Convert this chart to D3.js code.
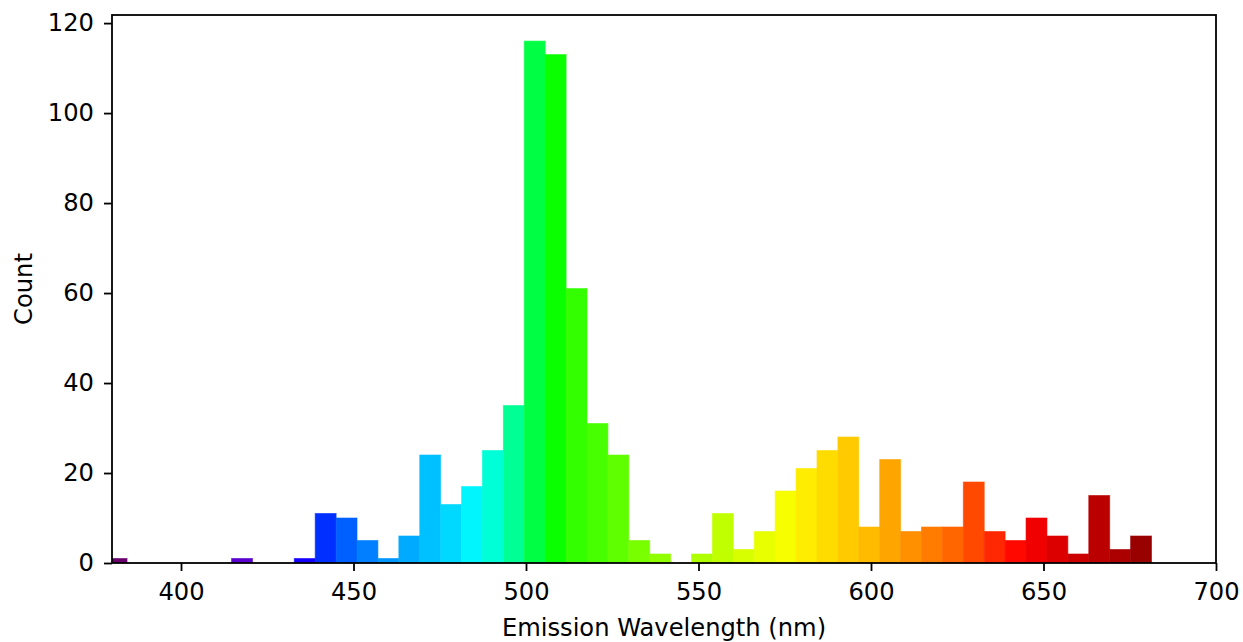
<!DOCTYPE html>
<html>
<head>
<meta charset="utf-8">
<script src="https://cdn.jsdelivr.net/npm/d3@7"></script>
<style>
  html, body { margin: 0; padding: 0; background: #fff; }
  svg { display: block; font-family: "DejaVu Sans", sans-serif; }
</style>
</head>
<body>
<svg id="chart" width="1243" height="642"></svg>
<script>
// ---- data ----
const binEdges = [378.30, 384.36, 390.42, 396.48, 402.54, 408.60, 414.66, 420.72, 426.78, 432.84,
  438.90, 444.96, 451.02, 457.08, 463.14, 469.20, 475.26, 481.32, 487.38, 493.44,
  499.50, 505.56, 511.62, 517.68, 523.74, 529.80, 535.86, 541.92, 547.98, 554.04,
  560.10, 566.16, 572.22, 578.28, 584.34, 590.40, 596.46, 602.52, 608.58, 614.64,
  620.70, 626.76, 632.82, 638.88, 644.94, 651.00, 657.06, 663.12, 669.18, 675.24, 681.30];
const counts = [1, 0, 0, 0, 0, 0, 1, 0, 0, 1,
  11, 10, 5, 1, 6, 24, 13, 17, 25, 35,
  116, 113, 61, 31, 24, 5, 2, 0, 2, 11,
  3, 7, 16, 21, 25, 28, 8, 23, 7, 8,
  8, 18, 7, 5, 10, 6, 2, 15, 3, 6];
const xTicks = [400, 450, 500, 550, 600, 650, 700];
const yTicks = [0, 20, 40, 60, 80, 100, 120];
const colorStops = [381.3, 417.7, 435.8, 442, 448, 454, 460, 466, 472, 478, 484, 490, 496, 502.5,
  508.6, 514.7, 520.7, 526.8, 532.8, 538.9, 551, 557, 563, 569, 575, 581, 587, 593, 599.5,
  605.5, 611.6, 617.7, 623.7, 629.8, 635.9, 641.9, 648, 654, 660, 666, 672.2, 678.3];
const colorValues = ["#6a006c", "#5a00d0", "#1400ff", "#0030ff", "#0060ff", "#0080ff", "#0098ff",
  "#00aaff", "#00c0ff", "#00d8ff", "#00f4ff", "#00ffdc", "#00ff9a", "#00ff44",
  "#0aff00", "#34ff00", "#48ff00", "#60ff00", "#78ff00", "#90ff00", "#b0ff00", "#c0ff00",
  "#d8ff00", "#e8ff00", "#f6ff00", "#ffee00", "#ffdd00", "#ffcc00", "#ffbb00",
  "#ffa500", "#ff9000", "#ff7c00", "#ff6600", "#ff4800", "#ff2800", "#ff0800",
  "#f00000", "#dd0000", "#cc0000", "#bb0000", "#aa0000", "#990000"];

// ---- layout ----
const L = 112, R = 1216, T = 15, B = 563;
const fontSize = 24.2, lw = 1.8, tickLen = 8;

const svg = d3.select("#chart");
const x = d3.scaleLinear().domain([380, 700]).range([L, R]);
const y = d3.scaleLinear().domain([0, d3.max(counts) * 1.05]).range([B, T]);
const color = d3.scaleLinear().domain(colorStops).range(colorValues).clamp(true);

const bins = counts.map((c, i) => ({ x0: binEdges[i], x1: binEdges[i + 1], c }));

svg.append("clipPath").attr("id", "clip")
  .append("rect").attr("x", L).attr("y", T).attr("width", R - L).attr("height", B - T);

svg.append("g").attr("clip-path", "url(#clip)")
  .selectAll("rect").data(bins).join("rect")
  .attr("x", d => x(d.x0))
  .attr("width", d => x(d.x1) - x(d.x0))
  .attr("y", d => y(d.c))
  .attr("height", d => y(0) - y(d.c))
  .attr("fill", d => color((d.x0 + d.x1) / 2))
  .attr("stroke", d => color((d.x0 + d.x1) / 2))
  .attr("stroke-opacity", 0.6)
  .attr("stroke-width", 1);

// axes
const xAxis = d3.axisBottom(x).tickValues(xTicks).tickSize(tickLen).tickPadding(9).tickFormat(d3.format("d"));
const yAxis = d3.axisLeft(y).tickValues(yTicks).tickSize(tickLen).tickPadding(10).tickFormat(d3.format("d"));

const gx = svg.append("g").attr("transform", `translate(0,${B})`).call(xAxis);
const gy = svg.append("g").attr("transform", `translate(${L},0)`).call(yAxis);
[gx, gy].forEach(g => {
  g.select(".domain").remove();
  g.selectAll(".tick line").attr("stroke", "#000").attr("stroke-width", lw);
  g.selectAll(".tick text").attr("fill", "#000").attr("font-size", fontSize)
    .attr("font-family", "DejaVu Sans, sans-serif");
});
gx.selectAll(".tick text").attr("y", 37).attr("dy", 0);

// frame
svg.append("rect").attr("x", L).attr("y", T).attr("width", R - L).attr("height", B - T)
  .attr("fill", "none").attr("stroke", "#000").attr("stroke-width", lw);

// labels
svg.append("text").attr("x", (L + R) / 2).attr("y", 636)
  .attr("text-anchor", "middle").attr("font-size", fontSize).attr("fill", "#000")
  .text("Emission Wavelength (nm)");
svg.append("text").attr("transform", `translate(32,${(T + B) / 2}) rotate(-90)`)
  .attr("text-anchor", "middle").attr("font-size", fontSize).attr("fill", "#000")
  .text("Count");
</script>
</body>
</html>
